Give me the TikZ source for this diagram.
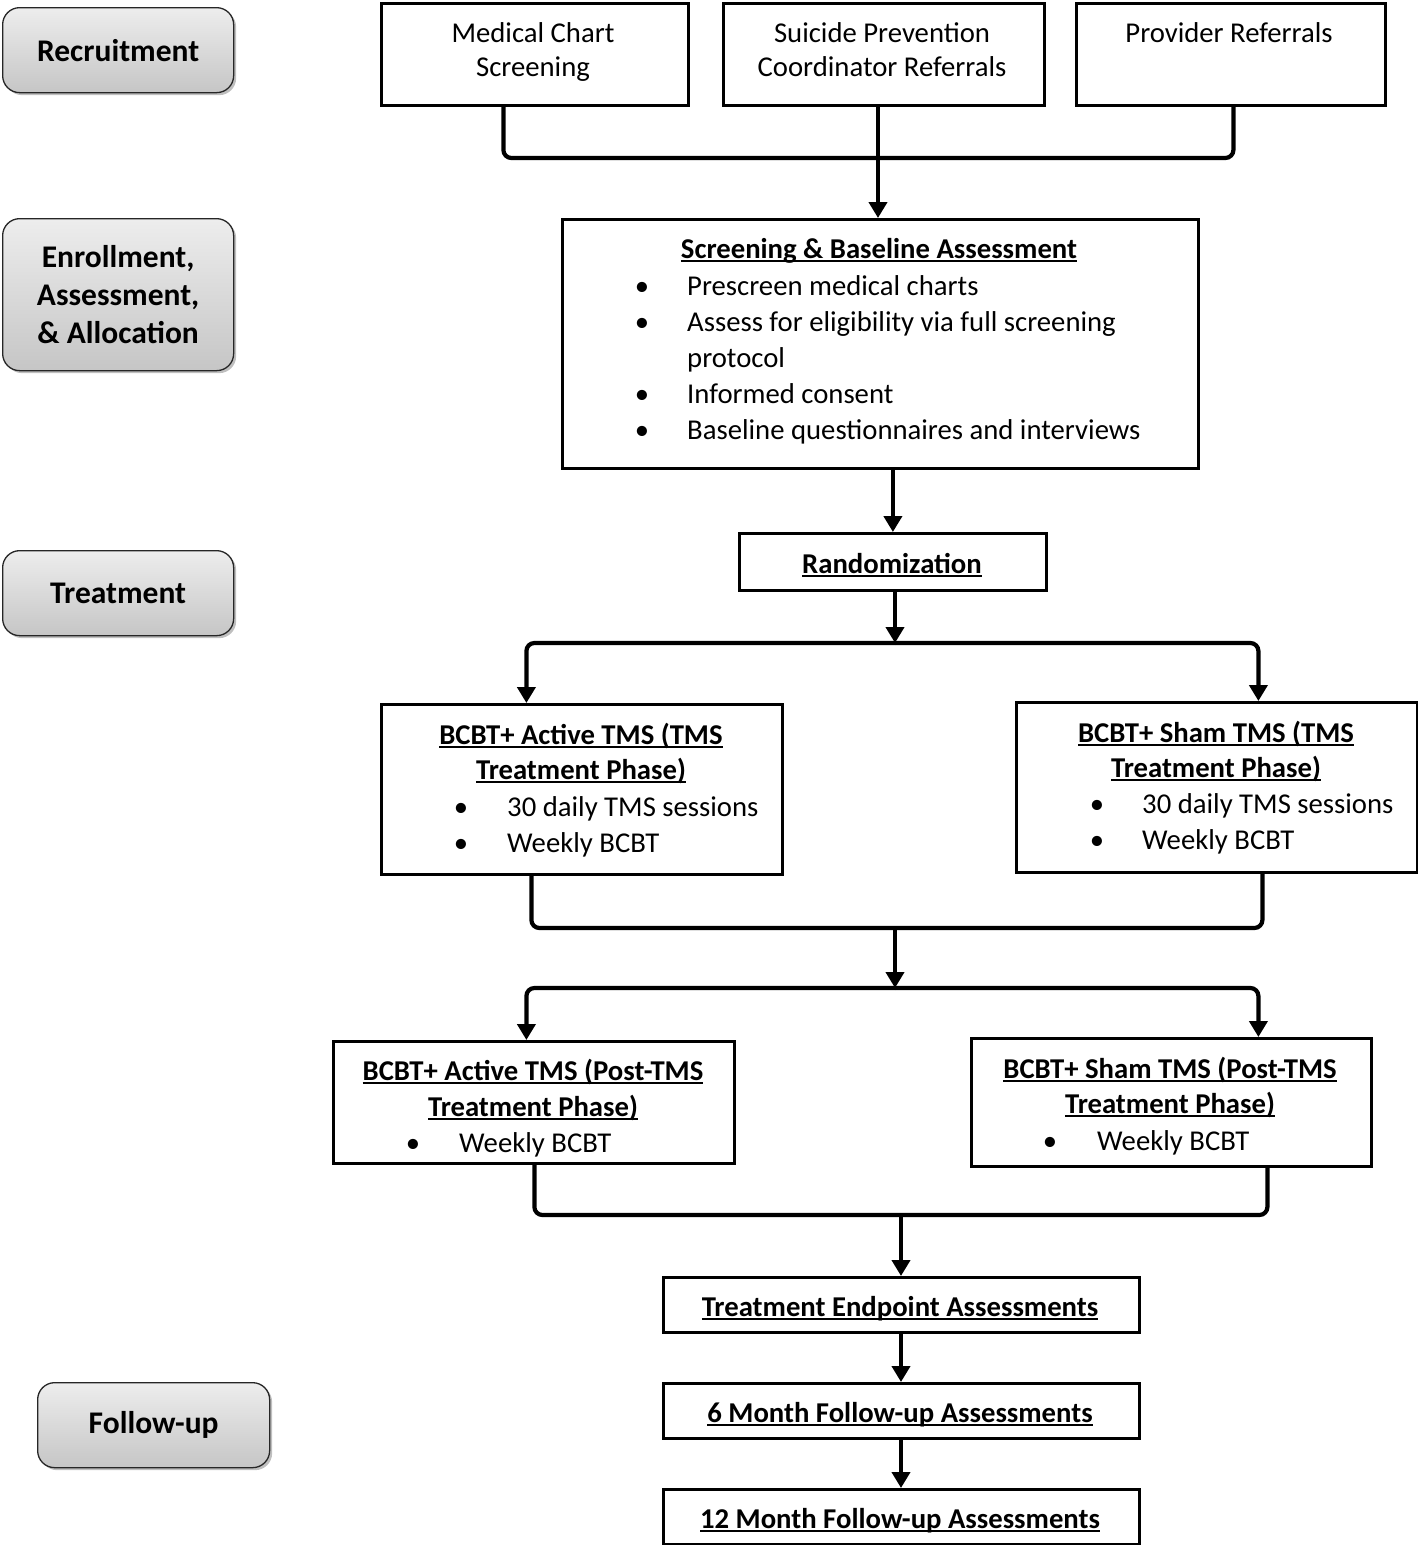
\documentclass[tikz,border=0pt]{standalone}
\usepackage{fontspec}
\setmainfont{Carlito}
\newsavebox{\myulbox}
\newcommand{\myul}[1]{\sbox{\myulbox}{#1}\rlap{\usebox{\myulbox}}\rule[-4.2pt]{\wd\myulbox}{1.8pt}}
\usetikzlibrary{arrows.meta,shadows}
\begin{document}
\begin{tikzpicture}[x=1pt,y=-1pt,
  box/.style={draw,line width=2.8pt,inner sep=0pt,anchor=north west},
  side/.style={draw=black!85,line width=1.3pt,rounded corners=17pt,top color=gray!14,bottom color=gray!45,
    drop shadow={shadow xshift=2.5pt,shadow yshift=-2.5pt,opacity=0.5},anchor=north west,inner sep=0pt,
    align=center,font=\bfseries\fontsize{31.5}{38}\selectfont},
  tx/.style={inner sep=0pt,text height=24pt,text depth=4pt,font=\fontsize{28.7}{34}\selectfont},
  bt/.style={tx,font=\bfseries\fontsize{28.7}{34}\selectfont},
  lt/.style={tx,anchor=west},
  bul/.style={tx},
  conn/.style={line width=4.2pt,rounded corners=8pt},
  arr/.style={conn,-{Triangle[width=18pt,length=16pt]}}]
\useasboundingbox (0,0) rectangle (1418,1545);
\fill[white] (0,0) rectangle (1418,1545);

% side labels
\node[side,minimum width=231pt,minimum height=85pt] (rec) at (2,7) {Recruitment};
\node[side,minimum width=231pt,minimum height=152pt] (enr) at (2,218) {Enrollment,\\Assessment,\\\& Allocation};
\node[side,minimum width=231pt,minimum height=85pt] (trt) at (2,550) {Treatment};
\node[side,minimum width=232pt,minimum height=85pt] (fu) at (37,1382) {Follow-up};

% boxes
\node[box,minimum width=307pt,minimum height=102pt] (mc) at (380,2) {};
\node[box,minimum width=321pt,minimum height=102pt] (spc) at (722,2) {};
\node[box,minimum width=309pt,minimum height=102pt] (pr) at (1075,2) {};
\node[box,minimum width=636pt,minimum height=249pt] (sb) at (561,218) {};
\node[box,minimum width=307pt,minimum height=57pt] (rand) at (738,532) {};
\node[box,minimum width=401pt,minimum height=170pt] (a1) at (380,703) {};
\node[box,minimum width=401pt,minimum height=170pt] (s1) at (1015,701) {};
\node[box,minimum width=401pt,minimum height=122pt] (a2) at (332,1040) {};
\node[box,minimum width=400pt,minimum height=128pt] (s2) at (970,1037) {};
\node[box,minimum width=476pt,minimum height=55pt] (tea) at (662,1276) {};
\node[box,minimum width=476pt,minimum height=55pt] (m6) at (662,1382) {};
\node[box,minimum width=476pt,minimum height=55pt] (m12) at (662,1488) {};

% texts
\node[tx] (mc1) at (533,32) {Medical Chart};
\node[tx] (mc2) at (533,66) {Screening};
\node[tx] (spc1) at (882,32) {Suicide Prevention};
\node[tx] (spc2) at (882,66) {Coordinator Referrals};
\node[tx] (pr1) at (1229,32) {Provider Referrals};

\node[bt] (sbt) at (879,248) {\myul{Screening \& Baseline Assessment}};
\node[bul] (sbb1) at (642,285) {•};
\node[bul] (sbb2) at (642,321) {•};
\node[bul] (sbb3) at (642,393) {•};
\node[bul] (sbb4) at (642,429) {•};
\node[lt] (sbl1) at (687,285) {Prescreen medical charts};
\node[lt] (sbl2) at (687,321) {Assess for eligibility via full screening};
\node[lt] (sbl3) at (687,357) {protocol};
\node[lt] (sbl4) at (687,393) {Informed consent};
\node[lt] (sbl5) at (687,429) {Baseline questionnaires and interviews};

\node[bt] (randt) at (892,563) {\myul{Randomization}};

\node[bt] (a1t1) at (581,734) {\myul{BCBT+ Active TMS (TMS}};
\node[bt] (a1t2) at (581,769) {\myul{Treatment Phase)}};
\node[bul] (a1b1) at (461,806) {•};
\node[bul] (a1b2) at (461,842) {•};
\node[lt] (a1l1) at (507,806) {30 daily TMS sessions};
\node[lt] (a1l2) at (507,842) {Weekly BCBT};

\node[bt] (s1t1) at (1216,732) {\myul{BCBT+ Sham TMS (TMS}};
\node[bt] (s1t2) at (1216,767) {\myul{Treatment Phase)}};
\node[bul] (s1b1) at (1097,803) {•};
\node[bul] (s1b2) at (1097,839) {•};
\node[lt] (s1l1) at (1142,803) {30 daily TMS sessions};
\node[lt] (s1l2) at (1142,839) {Weekly BCBT};

\node[bt] (a2t1) at (533,1070) {\myul{BCBT+ Active TMS (Post-TMS}};
\node[bt] (a2t2) at (533,1106) {\myul{Treatment Phase)}};
\node[bul] (a2b1) at (413,1142) {•};
\node[lt] (a2l1) at (459,1142) {Weekly BCBT};

\node[bt] (s2t1) at (1170,1068) {\myul{BCBT+ Sham TMS (Post-TMS}};
\node[bt] (s2t2) at (1170,1103) {\myul{Treatment Phase)}};
\node[bul] (s2b1) at (1050,1140) {•};
\node[lt] (s2l1) at (1097,1140) {Weekly BCBT};

\node[bt] (teat) at (900,1306) {\myul{Treatment Endpoint Assessments}};
\node[bt] (m6t) at (900,1412) {\myul{6 Month Follow-up Assessments}};
\node[bt] (m12t) at (900,1518) {\myul{12 Month Follow-up Assessments}};

% connectors
\coordinate (jA) at (878,158);
\draw[conn] ([xshift=-31.5pt]mc.south) |- (jA) -| ([xshift=2.5pt]pr.south);
\draw[arr] (spc.south -| jA) -- (jA |- sb.north);
\draw[arr] (rand.north |- sb.south) -- (rand.north);
\coordinate (jB) at (895,643);
\draw[arr] (rand.south -| jB) -- (jB);
\draw[arr] (jB) -| ([xshift=-55.5pt]a1.north);
\draw[arr] (jB) -| ([xshift=41.5pt]s1.north);
\coordinate (jC) at (895,928);
\draw[conn] ([xshift=-50.5pt]a1.south) |- (jC) -| ([xshift=45.5pt]s1.south);
\coordinate (jD) at (895,988);
\draw[arr] (jC) -- (jD);
\draw[arr] (jD) -| ([xshift=-7.5pt]a2.north);
\draw[arr] (jD) -| ([xshift=87pt]s2.north);
\coordinate (jE) at (901,1215);
\draw[conn] ([xshift=0.5pt]a2.south) |- (jE) -| ([xshift=96pt]s2.south);
\draw[arr] (jE) -- (jE |- tea.north);
\draw[arr] (tea.south -| jE) -- (jE |- m6.north);
\draw[arr] (m6.south -| jE) -- (jE |- m12.north);
\end{tikzpicture}
\end{document}
